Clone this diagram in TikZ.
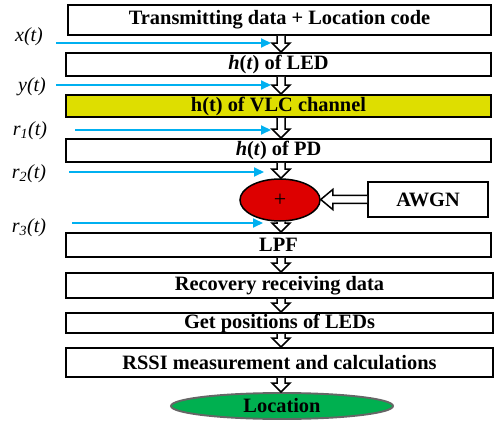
\documentclass[tikz,border=0pt]{standalone}
\usepackage{fontspec}
\setmainfont{Liberation Serif}
\usetikzlibrary{calc,arrows.meta,shapes.geometric}
\definecolor{vlcyellow}{HTML}{DEDE00}
\definecolor{sigblue}{HTML}{00B0F0}
\definecolor{sumred}{HTML}{DD0000}
\definecolor{locgreen}{HTML}{00B050}
\newcommand\hollowdown[2]{%
  \draw[hollow] let \p1=(#1), \p2=(#2) in
    ({\x1-4pt},\y1) -- ({\x1-4pt},{\y2+9pt}) -- ({\x1-9pt},{\y2+9pt}) --
    (\x1,\y2) -- ({\x1+9pt},{\y2+9pt}) -- ({\x1+4pt},{\y2+9pt}) --
    ({\x1+4pt},\y1);}
\newcommand\hollowleft[2]{%
  \draw[hollow] let \p1=(#1), \p2=(#2) in
    (\x1,{\y1+4pt}) -- ({\x2+12pt},{\y1+4pt}) -- ({\x2+12pt},{\y1+10pt}) --
    (\x2,\y1) -- ({\x2+12pt},{\y1-10pt}) -- ({\x2+12pt},{\y1-4pt}) --
    (\x1,{\y1-4pt});}
\begin{document}
\begin{tikzpicture}[x=1pt,y=-1pt,
  box/.style={draw, line width=1.9pt, inner sep=0pt, font=\fontsize{20.4}{22}\selectfont\bfseries},
  hollow/.style={draw=black, fill=white, line width=1.5pt, line join=miter},
  sig/.style={draw=sigblue, line width=2pt, -{Triangle[length=10pt,width=9pt]}},
  lbl/.style={font=\fontsize{20}{22}\selectfont\itshape, inner sep=0pt}]
\useasboundingbox (0,0) rectangle (495,422);
\coordinate (ax) at (281,0);
% boxes
\node[box, minimum width=423pt, minimum height=30pt] (b1) at (279.5,20) {Transmitting data + Location code};
\node[box, minimum width=425pt, minimum height=23pt] (b2) at (278.5,64.5) {\textit{h}(\textit{t}) of LED};
\node[box, fill=vlcyellow, minimum width=425pt, minimum height=22pt] (b3) at (278.5,106) {h(t) of VLC channel};
\node[box, minimum width=425pt, minimum height=23pt] (b4) at (278.5,150.5) {\textit{h}(\textit{t}) of PD};
\node[draw, line width=1.5pt, fill=sumred, ellipse, minimum width=80pt, minimum height=42pt, inner sep=0pt, font=\fontsize{22}{22}\selectfont] (sum) at (280,200) {+};
\node[box, minimum width=120pt, minimum height=35pt] (awgn) at (428,199.5) {AWGN};
\node[box, minimum width=425pt, minimum height=24pt] (lpf) at (278.5,245) {LPF};
\node[box, minimum width=427pt, minimum height=25pt] (rec) at (279.5,285.5) {Recovery receiving data};
\node[box, minimum width=427pt, minimum height=20pt] (pos) at (279.5,323) {Get positions of LEDs};
\node[box, minimum width=427pt, minimum height=29pt] (rssi) at (279.5,362.5) {RSSI measurement and calculations};
\node[box, ellipse, draw=black!60, fill=locgreen, minimum width=222pt, minimum height=26pt] (loc) at (282,406) {Location};
% hollow arrows
\hollowdown{b1.south -| ax}{b2.north -| ax}
\hollowdown{b2.south -| ax}{b3.north -| ax}
\hollowdown{b3.south -| ax}{b4.north -| ax}
\hollowdown{b4.south -| ax}{sum.north -| ax}
\hollowdown{sum.south -| ax}{lpf.north -| ax}
\hollowdown{lpf.south -| ax}{rec.north -| ax}
\hollowdown{rec.south -| ax}{pos.north -| ax}
\hollowdown{pos.south -| ax}{rssi.north -| ax}
\hollowdown{rssi.south -| ax}{loc.north -| ax}
\hollowleft{awgn.west}{sum.east}
% labels
\node[lbl] (lx) at (29,37) {x(t)};
\node[lbl] (ly) at (32,87) {y(t)};
\node[lbl] (lr1) at (30,131) {r\textsubscript{1}(t)};
\node[lbl] (lr2) at (29,174) {r\textsubscript{2}(t)};
\node[lbl] (lr3) at (29,228) {r\textsubscript{3}(t)};
% signal arrows
\coordinate (sx0) at (56,43);  \coordinate (sx1) at (271,43);
\coordinate (sy0) at (56,85);  \coordinate (sy1) at (271,85);
\coordinate (s10) at (75,130); \coordinate (s11) at (271,130);
\coordinate (s20) at (69,172); \coordinate (s21) at (264,172);
\coordinate (s30) at (72,223); \coordinate (s31) at (263,223);
\draw[sig] (sx0) -- (sx1);
\draw[sig] (sy0) -- (sy1);
\draw[sig] (s10) -- (s11);
\draw[sig] (s20) -- (s21);
\draw[sig] (s30) -- (s31);
\end{tikzpicture}
\end{document}
